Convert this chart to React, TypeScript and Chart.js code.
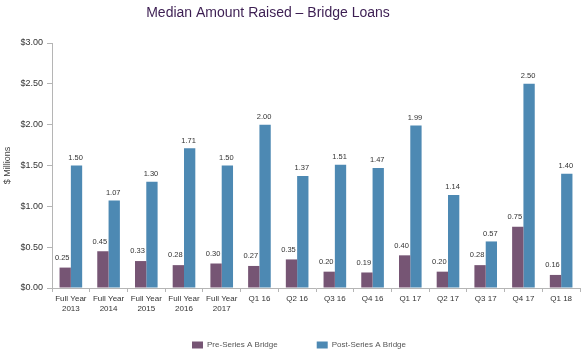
import React, { useEffect, useRef } from "react";
import { Chart, registerables } from "chart.js";

Chart.register(...registerables);

const categories: (string | string[])[] = [
  ["Full Year", "2013"],
  ["Full Year", "2014"],
  ["Full Year", "2015"],
  ["Full Year", "2016"],
  ["Full Year", "2017"],
  "Q1 16",
  "Q2 16",
  "Q3 16",
  "Q4 16",
  "Q1 17",
  "Q2 17",
  "Q3 17",
  "Q4 17",
  "Q1 18",
];
const preSeriesA = [0.25, 0.45, 0.33, 0.28, 0.3, 0.27, 0.35, 0.2, 0.19, 0.4, 0.2, 0.28, 0.75, 0.16];
const postSeriesA = [1.5, 1.07, 1.3, 1.71, 1.5, 2.0, 1.37, 1.51, 1.47, 1.99, 1.14, 0.57, 2.5, 1.4];
const seriesNames = ["Pre-Series A Bridge", "Post-Series A Bridge"];
const titleText = "Median Amount Raised – Bridge Loans";
const yAxisTitle = "$ Millions";

const FONT = "'Liberation Sans', Arial, Helvetica, sans-serif";

const valueLabels = {
  id: "valueLabels",
  afterDatasetsDraw(chart: any) {
    const ctx = chart.ctx;
    ctx.save();
    ctx.font = `7.5px ${FONT}`;
    ctx.fillStyle = "#333333";
    ctx.textAlign = "center";
    ctx.textBaseline = "bottom";
    chart.data.datasets.forEach((ds: any, di: number) => {
      const meta = chart.getDatasetMeta(di);
      meta.data.forEach((bar: any, i: number) => {
        const v = ds.data[i] as number;
        const dx = di === 0 ? -3 : -1;
        const dy = di === 0 ? 6 : 4;
        ctx.fillText(v.toFixed(2), bar.x + dx, bar.y - dy);
      });
    });
    ctx.restore();
  },
};

const titleDraw = {
  id: "titleDraw",
  afterLayout(chart: any) {
    // let the two-line category labels extend below the axis box
    const xs = chart.scales.x;
    xs.bottom = chart.height;
    // nudge the legend to the reference position
    const lg = chart.legend;
    if (lg) {
      lg.left += 9;
      lg.right += 9;
      lg.top += 2;
      lg.bottom += 2;
    }
  },
  afterDraw(chart: any) {
    const ctx = chart.ctx;
    ctx.save();
    ctx.font = `14px ${FONT}`;
    ctx.fillStyle = "#3c1e52";
    ctx.textAlign = "center";
    ctx.textBaseline = "middle";
    ctx.fillText(titleText, 268, 13);
    ctx.restore();
  },
};

export default function App() {
  const ref = useRef<HTMLCanvasElement>(null);
  useEffect(() => {
    document.body.style.margin = "0";
    const chart = new Chart(ref.current!, {
      type: "bar",
      data: {
        labels: categories,
        datasets: [
          {
            label: seriesNames[0],
            data: preSeriesA,
            backgroundColor: "#765574",
            borderWidth: 0,
            categoryPercentage: 0.6,
            barPercentage: 1,
          },
          {
            label: seriesNames[1],
            data: postSeriesA,
            backgroundColor: "#4d89b3",
            borderWidth: 0,
            categoryPercentage: 0.6,
            barPercentage: 1,
          },
        ],
      },
      options: {
        animation: false,
        responsive: false,
        maintainAspectRatio: false,
        layout: { padding: { left: 0, right: 4, top: 43, bottom: 0 } },
        plugins: {
          title: { display: false },
          legend: {
            position: "bottom",
            maxHeight: 54,
            labels: {
              boxWidth: 11,
              boxHeight: 7,
              color: "#555555",
              padding: 39,
              font: { family: FONT, size: 8 },
            },
          },
          tooltip: { enabled: false },
        },
        scales: {
          x: {
            grid: {
              display: true,
              drawOnChartArea: false,
              drawTicks: true,
              tickLength: 4,
              color: "#b5b5b5",
            },
            border: { display: true, color: "#b5b5b5" },
            ticks: {
              color: "#333333",
              font: { family: FONT, size: 8 },
              maxRotation: 0,
              autoSkip: false,
              padding: 2,
            },
            afterFit(scale: any) {
              scale.height = 12;
            },
          },
          y: {
            min: 0,
            max: 3,
            grid: {
              display: true,
              drawOnChartArea: false,
              drawTicks: true,
              tickLength: 5,
              color: "#b5b5b5",
            },
            border: { display: true, color: "#b5b5b5" },
            ticks: {
              stepSize: 0.5,
              color: "#333333",
              font: { family: FONT, size: 9 },
              padding: 4,
              callback: (v: any) => "$" + Number(v).toFixed(2),
            },
            title: {
              display: true,
              text: yAxisTitle,
              color: "#444444",
              font: { family: FONT, size: 9 },
              padding: { top: 2, bottom: 0 },
            },
            afterFit(scale: any) {
              scale.width = 52;
            },
          },
        },
      },
      plugins: [valueLabels, titleDraw],
    });
    return () => chart.destroy();
  }, []);
  return (
    <div style={{ width: 584, height: 354 }}>
      <canvas ref={ref} width={584} height={354} style={{ display: "block" }} />
    </div>
  );
}
